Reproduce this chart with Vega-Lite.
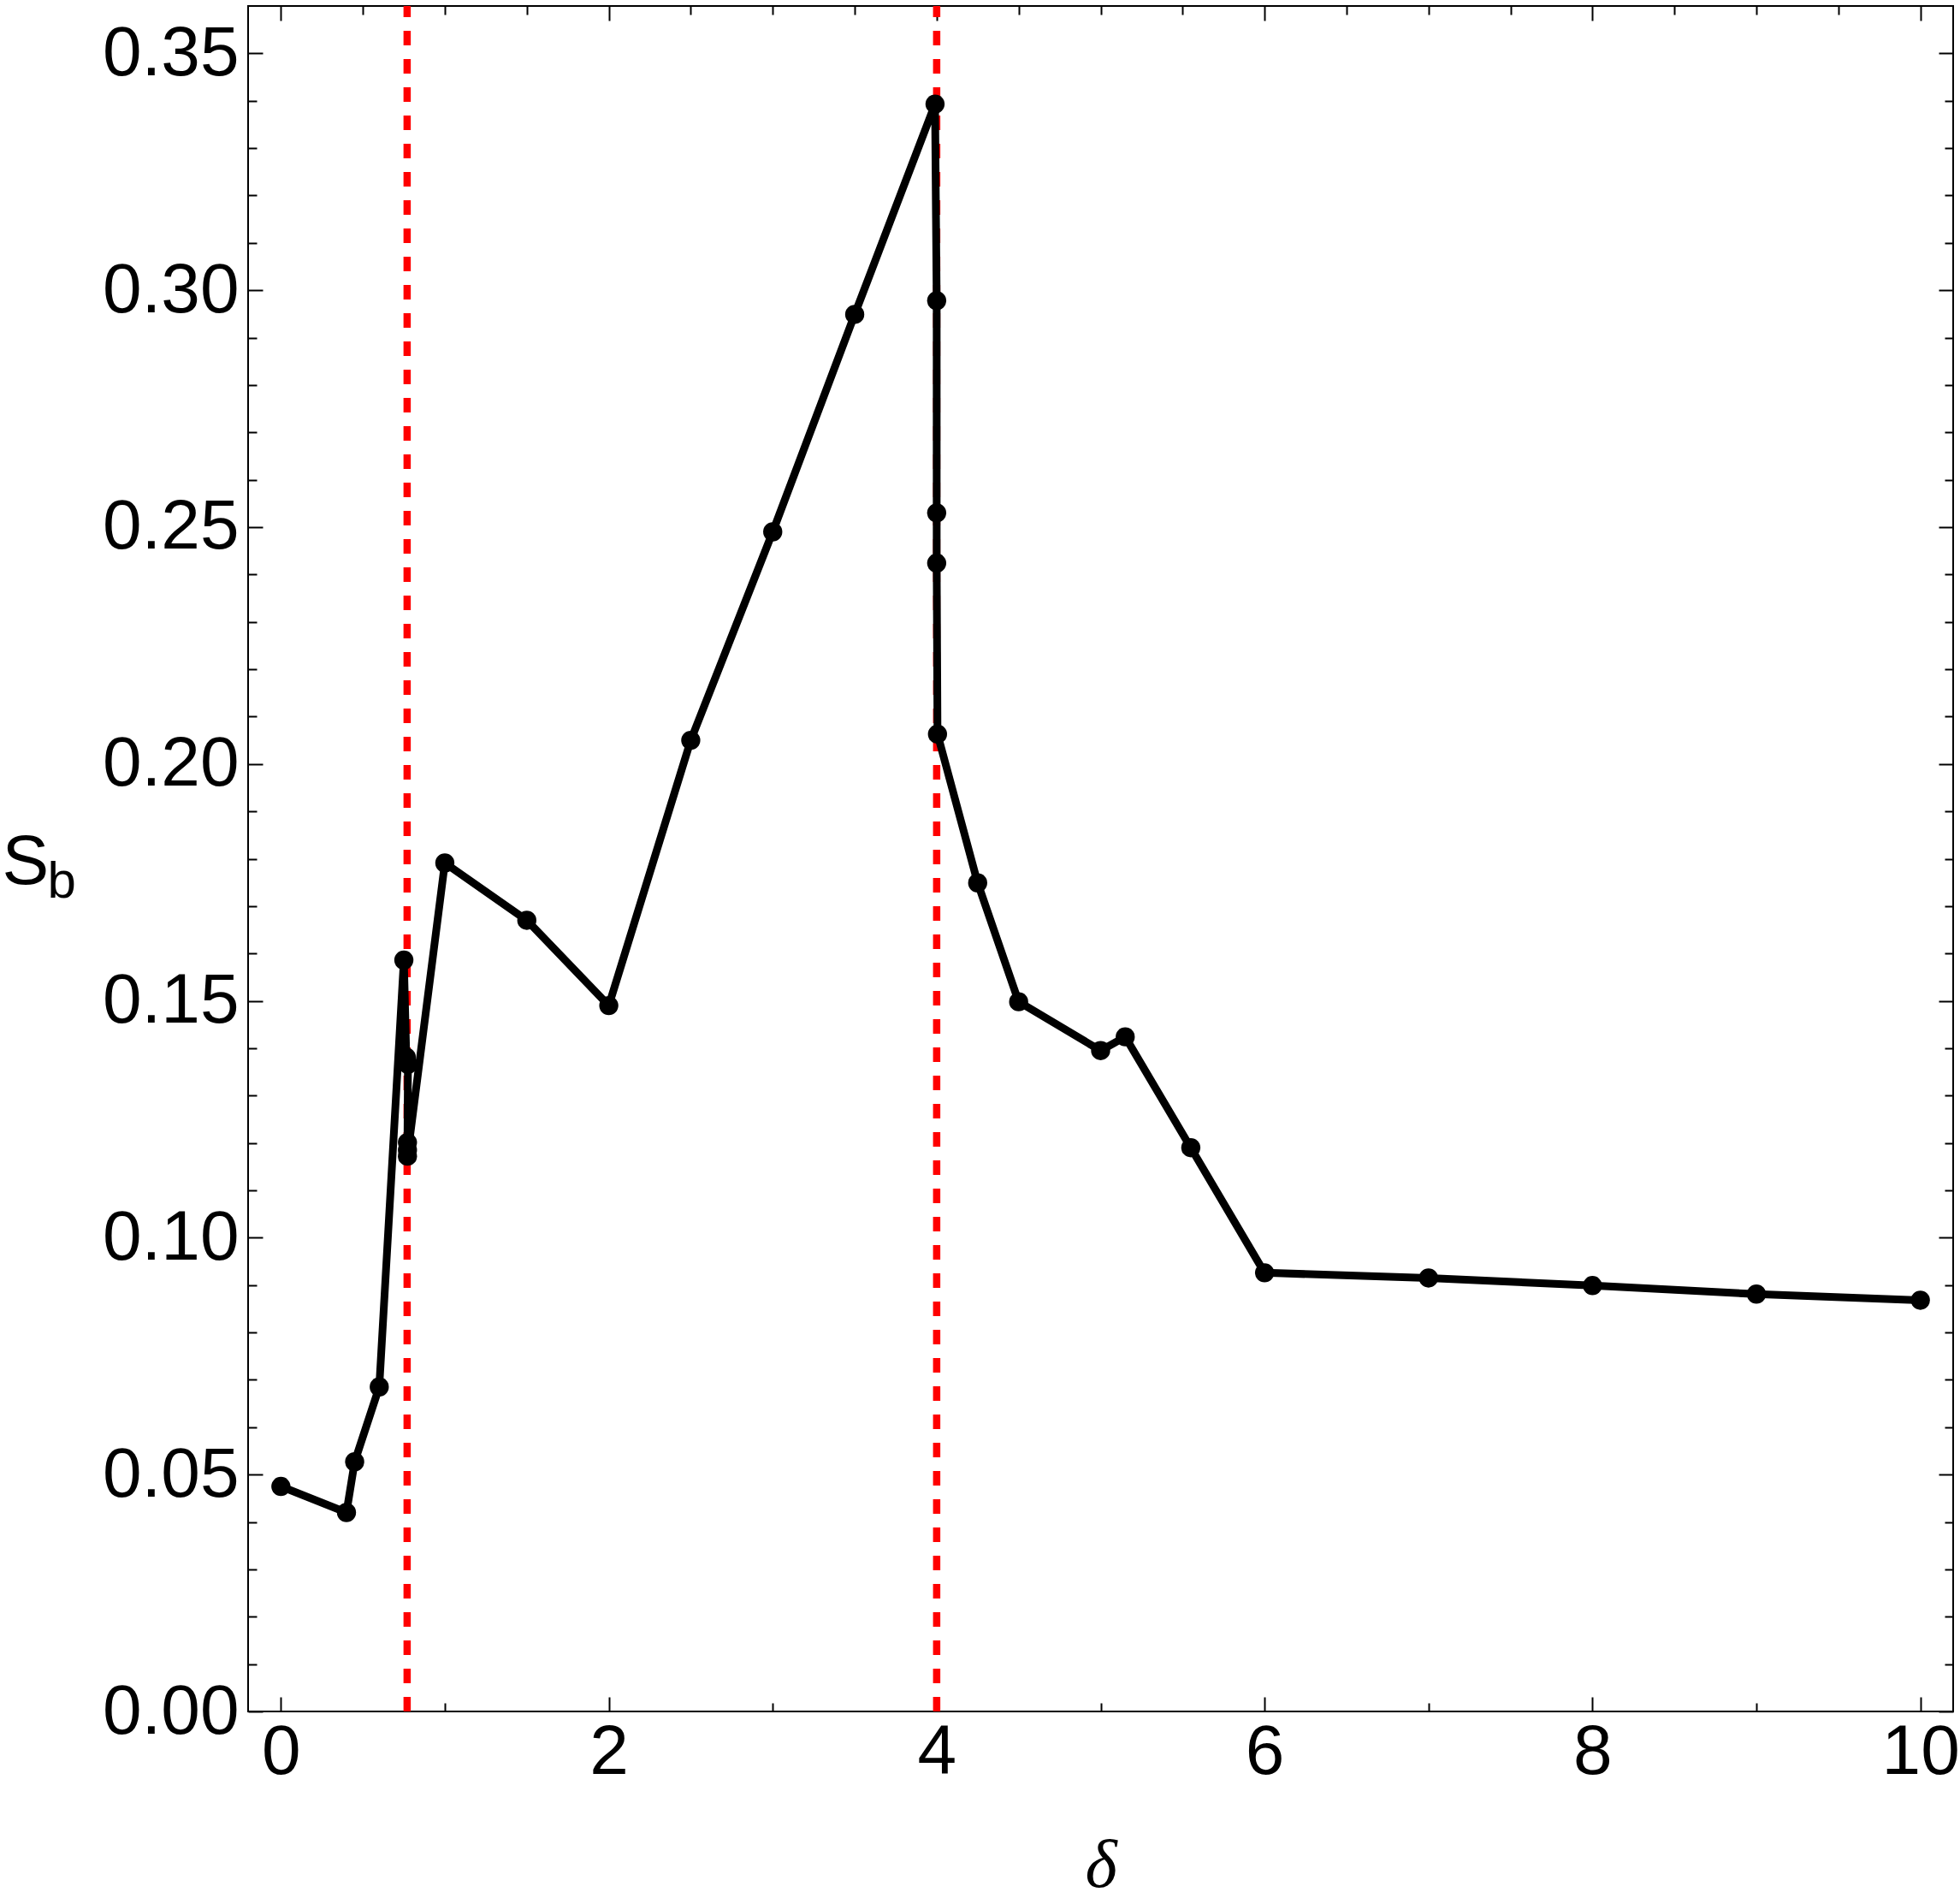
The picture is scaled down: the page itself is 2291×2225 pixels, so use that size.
{
  "$schema": "https://vega.github.io/schema/vega-lite/v6.json",
  "width": 1993,
  "height": 1993,
  "autosize": {"type": "none"},
  "padding": {"left": 290, "top": 7, "right": 8, "bottom": 225},
  "background": "white",
  "config": {
    "view": {"stroke": "black", "strokeWidth": 2},
    "axis": {"grid": false, "domain": false, "tickColor": "black", "tickWidth": 2, "labelFont": "Liberation Sans", "labelFontSize": 82, "labelColor": "black", "titleColor": "black"}
  },
  "datasets": {
    "curve": [
      {"i": 1, "d": 0.0, "s": 0.0475},
      {"i": 2, "d": 0.40, "s": 0.0420},
      {"i": 3, "d": 0.45, "s": 0.0527},
      {"i": 4, "d": 0.60, "s": 0.0685},
      {"i": 5, "d": 0.75, "s": 0.1586},
      {"i": 6, "d": 0.765, "s": 0.1381},
      {"i": 7, "d": 0.775, "s": 0.1366},
      {"i": 8, "d": 0.772, "s": 0.1201},
      {"i": 9, "d": 0.772, "s": 0.1185},
      {"i": 10, "d": 0.772, "s": 0.1172},
      {"i": 11, "d": 1.0, "s": 0.1791},
      {"i": 12, "d": 1.5, "s": 0.1670},
      {"i": 13, "d": 2.0, "s": 0.1490},
      {"i": 14, "d": 2.5, "s": 0.2050},
      {"i": 15, "d": 3.0, "s": 0.2490},
      {"i": 16, "d": 3.5, "s": 0.2949},
      {"i": 17, "d": 3.99, "s": 0.3393},
      {"i": 18, "d": 4.0, "s": 0.2978},
      {"i": 19, "d": 4.0, "s": 0.2530},
      {"i": 20, "d": 4.0, "s": 0.2424},
      {"i": 21, "d": 4.005, "s": 0.2063},
      {"i": 22, "d": 4.25, "s": 0.1749},
      {"i": 23, "d": 4.5, "s": 0.1498},
      {"i": 24, "d": 5.0, "s": 0.1395},
      {"i": 25, "d": 5.15, "s": 0.1424},
      {"i": 26, "d": 5.55, "s": 0.1190},
      {"i": 27, "d": 6.0, "s": 0.0926},
      {"i": 28, "d": 7.0, "s": 0.0915},
      {"i": 29, "d": 8.0, "s": 0.0899},
      {"i": 30, "d": 9.0, "s": 0.0881},
      {"i": 31, "d": 10.0, "s": 0.0868}
    ],
    "lines": [{"r": 0.77}, {"r": 4.0}]
  },
  "resolve": {"axis": {"x": "independent", "y": "independent"}},
  "layer": [
    {
      "data": {"name": "lines"},
      "mark": {"type": "rule", "color": "#ff0000", "strokeWidth": 8.5, "strokeDash": [17, 16]},
      "encoding": {
        "x": {"field": "r", "type": "quantitative",
          "scale": {"domain": [-0.2, 10.2], "nice": false, "zero": false},
          "axis": {"orient": "top", "title": null, "labels": false,
            "values": [0,0.5,1,1.5,2,2.5,3,3.5,4,4.5,5,5.5,6,6.5,7,7.5,8,8.5,9,9.5,10],
            "tickSize": {"condition": {"test": "datum.value % 2 === 0", "value": -17}, "value": -10}}},
        "y": {"datum": 0, "type": "quantitative",
          "scale": {"domain": [0, 0.36], "nice": false, "zero": false},
          "axis": {"orient": "right", "title": null, "labels": false,
            "values": [0,0.01,0.02,0.03,0.04,0.05,0.06,0.07,0.08,0.09,0.1,0.11,0.12,0.13,0.14,0.15,0.16,0.17,0.18,0.19,0.2,0.21,0.22,0.23,0.24,0.25,0.26,0.27,0.28,0.29,0.3,0.31,0.32,0.33,0.34,0.35],
            "tickSize": {"condition": {"test": "abs(datum.value*20 - round(datum.value*20)) < 1e-6", "value": -17}, "value": -10}}},
        "y2": {"datum": 0.36}
      }
    },
    {
      "data": {"name": "curve"},
      "mark": {"type": "line", "color": "black", "strokeWidth": 9, "strokeJoin": "round"},
      "encoding": {
        "x": {"field": "d", "type": "quantitative",
          "scale": {"domain": [-0.2, 10.2], "nice": false, "zero": false},
          "axis": {"orient": "bottom", "title": "δ", "titleFont": "Liberation Serif", "titleFontStyle": "italic", "titleFontWeight": "normal", "titleFontSize": 80, "titlePadding": 53,
            "format": "d", "labelPadding": 24,
            "labelExpr": "datum.value % 2 === 0 ? datum.label : ''",
            "values": [0,0.5,1,1.5,2,2.5,3,3.5,4,4.5,5,5.5,6,6.5,7,7.5,8,8.5,9,9.5,10],
            "tickSize": {"condition": {"test": "datum.value % 2 === 0", "value": -17}, "value": -10}}},
        "y": {"field": "s", "type": "quantitative",
          "scale": {"domain": [0, 0.36], "nice": false, "zero": false},
          "axis": {"orient": "left", "title": "S", "titleFont": "Liberation Sans", "titleFontWeight": "normal", "titleFontSize": 82, "titleAngle": 0, "titleAlign": "left", "titleBaseline": "alphabetic", "titleX": -288, "titleY": 1025,
            "format": ".2f", "labelPadding": 28,
            "labelExpr": "abs(datum.value*20 - round(datum.value*20)) < 1e-6 ? datum.label : ''",
            "values": [0,0.01,0.02,0.03,0.04,0.05,0.06,0.07,0.08,0.09,0.1,0.11,0.12,0.13,0.14,0.15,0.16,0.17,0.18,0.19,0.2,0.21,0.22,0.23,0.24,0.25,0.26,0.27,0.28,0.29,0.3,0.31,0.32,0.33,0.34,0.35],
            "tickSize": {"condition": {"test": "abs(datum.value*20 - round(datum.value*20)) < 1e-6", "value": -17}, "value": -10}}},
        "order": {"field": "i", "type": "quantitative"}
      }
    },
    {
      "data": {"name": "curve"},
      "mark": {"type": "point", "filled": true, "color": "black", "opacity": 1, "size": 500},
      "encoding": {
        "x": {"field": "d", "type": "quantitative", "axis": null},
        "y": {"field": "s", "type": "quantitative",
          "axis": {"orient": "left", "title": "b", "titleFont": "Liberation Sans", "titleFontWeight": "normal", "titleFontSize": 60, "titleAngle": 0, "titleAlign": "left", "titleBaseline": "alphabetic", "titleX": -235, "titleY": 1041,
            "ticks": false, "labels": false, "domain": false, "values": []}}
      }
    }
  ]
}
